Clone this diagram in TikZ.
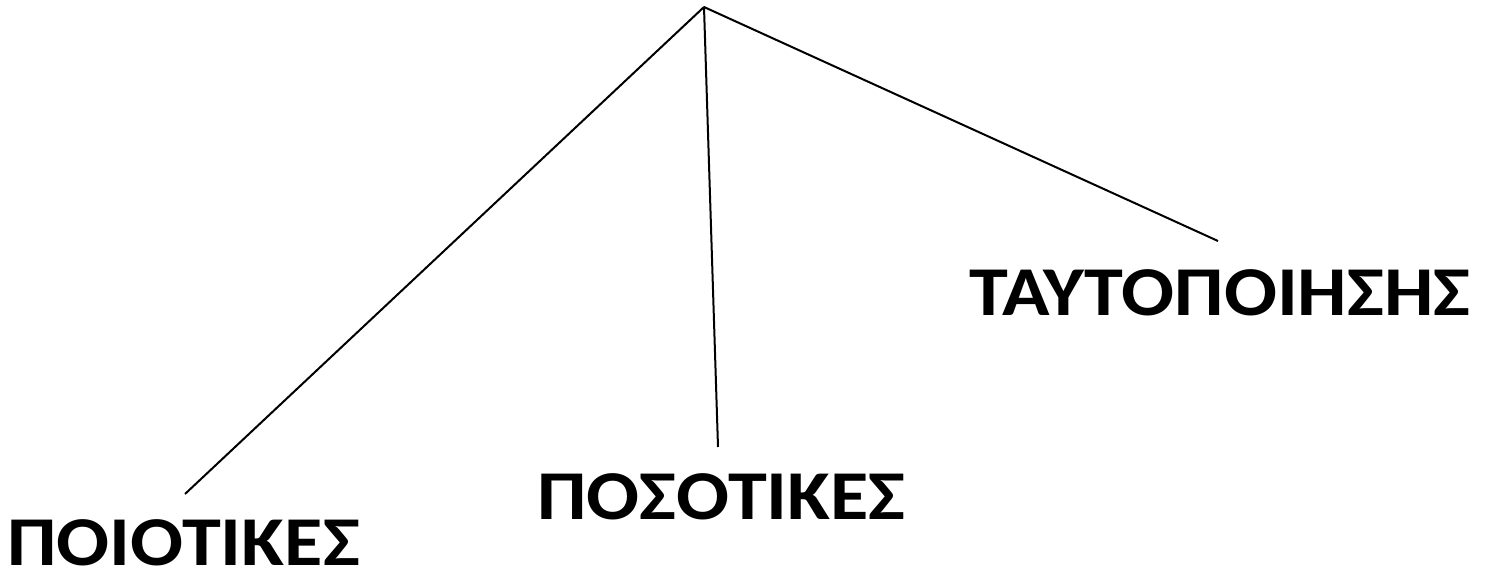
\documentclass[tikz,border=0pt]{standalone}
\usepackage{fontspec}
\setmainfont{Carlito}
\newfontfamily\lblfont[FakeStretch=1.12,BoldFont={Carlito Bold}]{Carlito}
\begin{document}
\begin{tikzpicture}[x=1pt,y=-1pt,
  lbl/.style={font=\lblfont\bfseries\fontsize{70}{80}\selectfont, inner sep=0pt, text depth=0pt, anchor=base},
  conn/.style={line width=2pt}]
\useasboundingbox (0,0) rectangle (1491,578);
\coordinate (top) at (704,7);
\coordinate (e1) at (185,494);
\coordinate (e2) at (718,447);
\coordinate (e3) at (1218,241);
\node[lbl] (l1) at (183.5,565) {ΠΟΙΟΤΙΚΕΣ};
\node[lbl] (l2) at (721.5,519) {ΠΟΣΟΤΙΚΕΣ};
\node[lbl] (l3) at (1220,315) {ΤΑΥΤΟΠΟΙΗΣΗΣ};
\draw[conn] (top) -- (e1);
\draw[conn] (top) -- (e2);
\draw[conn] (top) -- (e3);
\end{tikzpicture}
\end{document}
